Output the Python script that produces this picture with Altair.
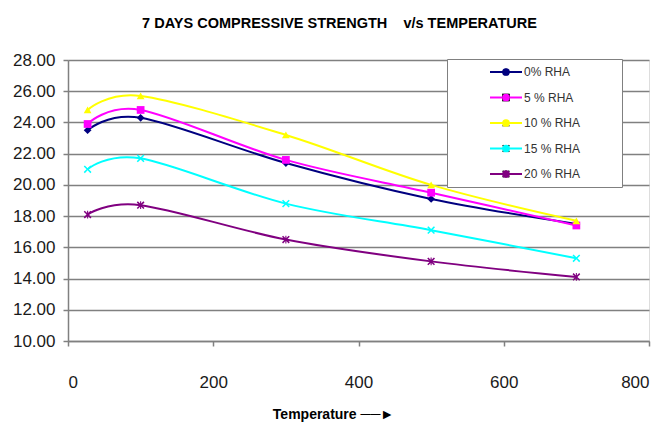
import altair as alt
import pandas as pd

temperatures = [27, 100, 300, 500, 700]
series_names = ["0% RHA", "5 % RHA", "10 % RHA", "15 % RHA", "20 % RHA"]
rha_0 = [23.5, 24.3, 21.4, 19.1, 17.5]
rha_5 = [23.9, 24.8, 21.6, 19.5, 17.4]
rha_10 = [24.8, 25.7, 23.2, 20.0, 17.7]
rha_15 = [21.0, 21.7, 18.8, 17.1, 15.3]
rha_20 = [18.1, 18.7, 16.5, 15.1, 14.1]
series_values = [rha_0, rha_5, rha_10, rha_15, rha_20]
series_colors = ["#000080", "#FF00FF", "#FFFF00", "#00FFFF", "#800080"]
y_ticks = [10, 12, 14, 16, 18, 20, 22, 24, 26, 28]
x_ticks = [0, 200, 400, 600, 800]

X_PATH = ("M-1,-0.72L-0.72,-1L0,-0.28L0.72,-1L1,-0.72L0.28,0L1,0.72"
          "L0.72,1L0,0.28L-0.72,1L-1,0.72L-0.28,0Z")
STAR_PATH = X_PATH + "M-0.14,-1L0.14,-1L0.14,1L-0.14,1Z"
marker_shapes = ["diamond", "square", "triangle-up", X_PATH, STAR_PATH]
LEGEND_LINE = "M-3.2,0L3.2,0"

rows = []
for name, vals in zip(series_names, series_values):
    for t, v in zip(temperatures, vals):
        rows.append({"temperature": t, "strength": v, "series": name, "series_m": name})
df = pd.DataFrame(rows)

FONT = "Liberation Sans, Arial, sans-serif"
GRID = "#808080"
NB = "\u00a0"

x_enc = alt.X(
    "temperature:Q",
    scale=alt.Scale(domain=[0, 800], nice=False, zero=False),
    axis=alt.Axis(
        values=x_ticks, grid=False, title="Temperature ──►",
        labelFont=FONT, labelFontSize=17, labelColor="#1a1a1a", labelPadding=28,
        tickSize=5, tickColor=GRID, tickWidth=1.5, domainColor=GRID, domainWidth=1.5,
        titleFont=FONT, titleFontSize=14, titleFontWeight="bold", titleColor="black",
        titleX=265, titleY=73, titleAlign="center", titleBaseline="middle",
    ),
)
y_enc = alt.Y(
    "strength:Q",
    scale=alt.Scale(domain=[10, 28], nice=False, zero=False),
    axis=alt.Axis(
        values=y_ticks, format=".2f", title=None, grid=True,
        gridColor=GRID, gridWidth=1.5,
        labelFont=FONT, labelFontSize=17, labelColor="#1a1a1a", labelPadding=8,
        tickSize=5, tickColor=GRID, tickWidth=1.5, domainColor=GRID, domainWidth=1.5,
    ),
)

# boxed legend: lines + visible labels
line_legend = alt.Legend(
    orient="none", legendX=379, legendY=-1,
    title="MMM", titleOrient="right", titleFont=FONT, titleFontSize=12,
    titlePadding=5, titleColor="white", titleOpacity=0,
    symbolType=LEGEND_LINE, symbolSize=100, symbolStrokeWidth=2, symbolOffset=46,
    labelFont=FONT, labelFontSize=12, labelColor="#333333", labelOffset=12,
    rowPadding=13.5, padding=7, strokeColor=GRID, fillColor="white", zindex=1,
)
# markers drawn over the legend lines (no labels, no box)
marker_legend = alt.Legend(
    orient="none", legendX=432, legendY=6, title=None,
    labelFont=FONT, labelFontSize=12, labelExpr="''",
    symbolSize=60, symbolStrokeWidth=0, symbolOpacity=1,
    rowPadding=13.5, padding=0, zindex=2,
)

lines = alt.Chart(df).mark_line(interpolate="cardinal", strokeWidth=2).encode(
    x=x_enc, y=y_enc,
    color=alt.Color("series:N", scale=alt.Scale(domain=series_names, range=series_colors),
                    legend=line_legend),
)
points = alt.Chart(df).mark_point(filled=True, size=60, strokeWidth=0, opacity=1).encode(
    x=x_enc, y=y_enc,
    fill=alt.Fill("series_m:N", sort=series_names, scale=alt.Scale(range=series_colors),
                  legend=marker_legend),
    shape=alt.Shape("series_m:N", sort=series_names, scale=alt.Scale(range=marker_shapes),
                    legend=marker_legend),
)

chart = alt.layer(lines, points).properties(
    width=581, height=281,
    padding={"left": 68, "top": 60, "right": 17, "bottom": 88},
    autosize=alt.AutoSizeParams(type="none"),
    title=alt.TitleParams(
        text="7 DAYS COMPRESSIVE STRENGTH" + NB * 4 + "v/s TEMPERATURE",
        font=FONT, fontSize=14.5, fontWeight="bold", color="black",
        anchor="middle", dx=-19, offset=20,
    ),
).configure_view(stroke=GRID, strokeWidth=1.5).configure(background="white")

chart.save("out.html", embed_options={"renderer": "svg", "actions": False})
